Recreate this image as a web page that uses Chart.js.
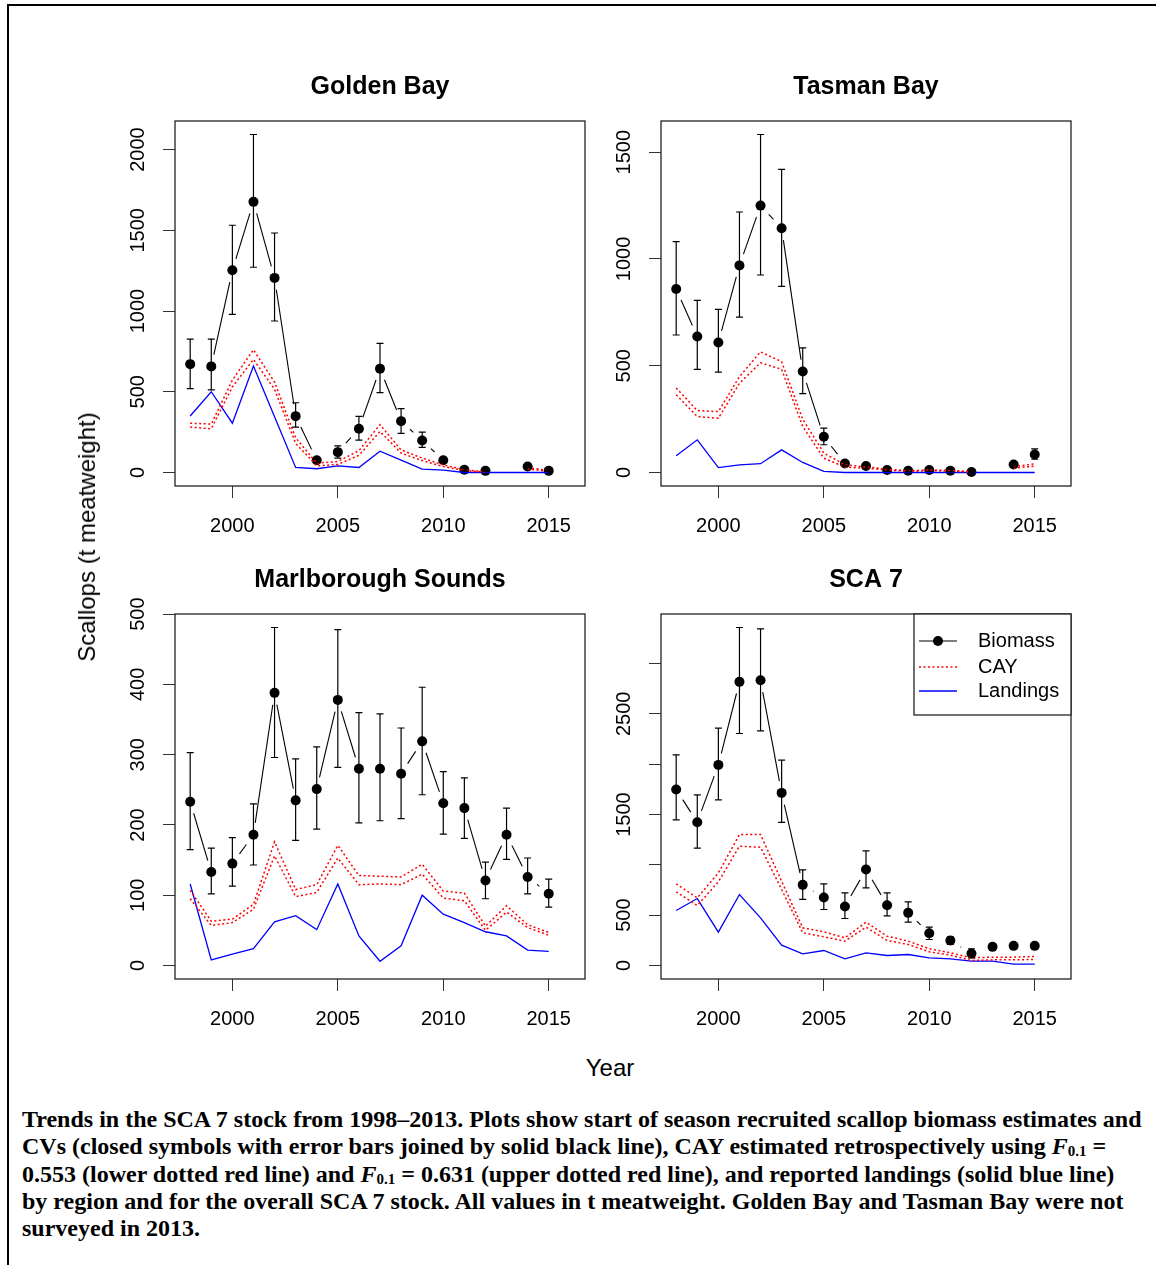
<!DOCTYPE html>
<html>
<head>
<meta charset="utf-8">
<title>SCA 7 scallop trends</title>
<script src="https://cdn.jsdelivr.net/npm/chart.js@4.4.0/dist/chart.umd.min.js"></script>
<style>
  body { margin: 0; background: #fff; }
  #page { position: relative; width: 1156px; height: 1265px; overflow: hidden; background: #fff; }
  .frame { position: absolute; left: 7px; top: 4px; width: 1300px; height: 1400px;
           border-top: 2px solid #000; border-left: 2px solid #000; }
  .panel { position: absolute; width: 500px; height: 500px; }
  .ylab, .xlab { position: absolute; font-family: "Liberation Sans", Arial, sans-serif; font-size: 24px;
                 color: #000; white-space: nowrap; }
  .ylab { left: 87px; top: 537px; transform: translate(-50%, -50%) rotate(-90deg); }
  .xlab { left: 610px; top: 1068px; transform: translate(-50%, -50%); }
  .caption { position: absolute; left: 22px; top: 1106px; font-family: "Liberation Serif", "Times New Roman", serif;
             font-weight: bold; font-size: 24px; line-height: 27.3px; color: #000; white-space: nowrap; }
  .caption sub { font-size: 15px; vertical-align: -2px; line-height: 0; }
</style>
</head>
<body>
<div id="page">
  <div class="frame"></div>
  <canvas id="golden" class="panel" width="500" height="500" style="left:100px;top:60px"></canvas>
  <canvas id="tasman" class="panel" width="500" height="500" style="left:586px;top:60px"></canvas>
  <canvas id="marl" class="panel" width="500" height="500" style="left:100px;top:553px"></canvas>
  <canvas id="sca7" class="panel" width="500" height="500" style="left:586px;top:553px"></canvas>
  <div class="ylab">Scallops (t meatweight)</div>
  <div class="xlab">Year</div>
  <div class="caption">
    Trends in the SCA 7 stock from 1998–2013. Plots show start of season recruited scallop biomass estimates and<br>
    CVs (closed symbols with error bars joined by solid black line), CAY estimated retrospectively using <i>F</i><sub>0.1</sub> =<br>
    0.553 (lower dotted red line) and <i>F</i><sub>0.1</sub> = 0.631 (upper dotted red line), and reported landings (solid blue line)<br>
    by region and for the overall SCA 7 stock. All values in t meatweight. Golden Bay and Tasman Bay were not<br>
    surveyed in 2013.
  </div>
</div>

<script>
// ---- data (t meatweight) ----
const years = [1998, 1999, 2000, 2001, 2002, 2003, 2004, 2005, 2006, 2007, 2008, 2009, 2010, 2011, 2012, 2013, 2014, 2015];
const xTicks = [2000, 2005, 2010, 2015];

// Golden Bay
const gbBiomass = [671, 657, 1252, 1676, 1205, 349, 76, 126, 271, 643, 318, 198, 76, 17, 10, null, 37, 10];
const gbLow     = [519, 512, 979, 1271, 938, 281, 62, 89, 200, 494, 242, 155, 62, 10, 5, null, 30, 5];
const gbHigh    = [826, 826, 1531, 2093, 1483, 432, 92, 165, 347, 800, 395, 250, 91, 25, 15, null, 45, 15];
const gbCayUp   = [305, 300, 572, 760, 560, 215, 58, 68, 135, 296, 140, 89, 47, 17, 4, null, 31, 12];
const gbCayLow  = [281, 271, 530, 700, 515, 181, 41, 50, 106, 254, 120, 74, 37, 12, 2, null, 21, 6];
const gbLand    = [350, 500, 305, 659, 345, 31, 23, 41, 31, 132, 76, 21, 14, 0, 0, 0, 0, 0];
const gbYTicks  = [0, 500, 1000, 1500, 2000];
const gbYLabels = ['0', '500', '1000', '1500', '2000'];

// Tasman Bay
const tbBiomass = [859, 637, 609, 970, 1250, 1144, 473, 167, 42, 30, 12, 8, 12, 8, 2, null, 37, 84];
const tbLow     = [644, 483, 470, 728, 925, 872, 369, 130, 30, 20, 5, 3, 5, 3, 0, null, 25, 62];
const tbHigh    = [1081, 806, 764, 1220, 1583, 1420, 584, 208, 55, 40, 20, 14, 20, 14, 5, null, 50, 111];
const tbCayUp   = [396, 290, 285, 449, 565, 519, 250, 91, 36, 26, 16, 8, 12, 10, 4, null, 28, 40];
const tbCayLow  = [364, 262, 254, 418, 514, 483, 215, 67, 25, 20, 12, 5, 8, 7, 2, null, 20, 30];
const tbLand    = [78, 153, 23, 36, 41, 106, 47, 5, 0, 0, 0, 0, 0, 0, 0, 0, 0, 0];
const tbYTicks  = [0, 500, 1000, 1500];
const tbYLabels = ['0', '500', '1000', '1500'];

// Marlborough Sounds
const msBiomass = [233, 133, 145, 186, 388, 235, 251, 378, 280, 280, 273, 319, 231, 224, 121, 186, 126, 102];
const msLow     = [165, 102, 113, 143, 296, 178, 194, 282, 203, 206, 209, 243, 187, 181, 95, 151, 102, 83];
const msHigh    = [303, 167, 182, 230, 481, 294, 311, 478, 360, 358, 338, 396, 276, 267, 147, 224, 153, 123];
const msCayUp   = [107, 63, 66, 87, 176, 108, 115, 171, 128, 127, 126, 144, 106, 103, 56, 85, 58, 47];
const msCayLow  = [95, 57, 61, 80, 156, 98, 104, 153, 115, 116, 115, 130, 96, 92, 50, 76, 54, 43];
const msLand    = [116, 8, 16, 24, 62, 71, 51, 116, 42, 6, 28, 100, 73, 61, 48, 42, 22, 20];
const msYTicks  = [0, 100, 200, 300, 400, 500];
const msYLabels = ['0', '100', '200', '300', '400', '500'];

// SCA 7 overall
const s7Biomass = [1748, 1424, 1993, 2818, 2834, 1715, 801, 675, 586, 954, 599, 523, 321, 248, 119, 185, 195, 195];
const s7Low     = [1447, 1166, 1646, 2305, 2331, 1421, 656, 556, 467, 772, 493, 430, 258, 209, 76, 165, 175, 175];
const s7High    = [2093, 1695, 2358, 3358, 3344, 2040, 950, 811, 722, 1139, 722, 632, 381, 285, 166, 205, 215, 215];
const s7CayUp   = [811, 672, 920, 1301, 1301, 838, 374, 334, 275, 430, 291, 242, 166, 126, 76, 83, 83, 89];
const s7CayLow  = [732, 596, 831, 1185, 1175, 755, 325, 285, 242, 381, 248, 209, 136, 103, 50, 56, 56, 60];
const s7Land    = [546, 665, 331, 705, 473, 202, 116, 149, 66, 126, 99, 109, 76, 66, 43, 43, 13, 13];
const s7YTicks  = [0, 500, 1000, 1500, 2000, 2500, 3000];
const s7YLabels = ['0', '500', '', '1500', '', '2500', ''];

const legendLabels = ['Biomass', 'CAY', 'Landings'];

// ---- drawing ----
const SANS = '"Liberation Sans", Arial, sans-serif';
const TICK_LEN = 12;

const pts = arr => years.map((yr, i) => ({ x: yr, y: arr[i] }));

// width of widest tick label, used to centre the rotated y labels like R does
const measureCtx = document.createElement('canvas').getContext('2d');
measureCtx.font = '20px ' + SANS;
function widest(labels) {
    return Math.max(...labels.map(l => measureCtx.measureText(l).width));
}

// box, title, error bars, type="b" biomass line and (optionally) legend
function decor(p) {
    return {
        id: 'decor_' + p.id,
        afterDatasetsDraw(chart) {
            const { ctx, scales: { x, y } } = chart;
            ctx.save();
            ctx.strokeStyle = '#000';
            ctx.lineWidth = 1.2;
            years.forEach((yr, i) => {
                if (p.low[i] == null) return;
                const px = x.getPixelForValue(yr);
                const y1 = y.getPixelForValue(p.low[i]);
                const y2 = y.getPixelForValue(p.high[i]);
                ctx.beginPath();
                ctx.moveTo(px, y1); ctx.lineTo(px, y2);
                ctx.moveTo(px - 3.5, y1); ctx.lineTo(px + 3.5, y1);
                ctx.moveTo(px - 3.5, y2); ctx.lineTo(px + 3.5, y2);
                ctx.stroke();
            });
            // segments stop short of each point
            const gap = 12;
            ctx.lineWidth = 1.1;
            for (let i = 0; i < years.length - 1; i++) {
                if (p.biomass[i] == null || p.biomass[i + 1] == null) continue;
                const x1 = x.getPixelForValue(years[i]), y1 = y.getPixelForValue(p.biomass[i]);
                const x2 = x.getPixelForValue(years[i + 1]), y2 = y.getPixelForValue(p.biomass[i + 1]);
                const d = Math.hypot(x2 - x1, y2 - y1);
                if (d <= 2 * gap) continue;
                const ux = (x2 - x1) / d, uy = (y2 - y1) / d;
                ctx.beginPath();
                ctx.moveTo(x1 + ux * gap, y1 + uy * gap);
                ctx.lineTo(x2 - ux * gap, y2 - uy * gap);
                ctx.stroke();
            }
            ctx.restore();
        },
        afterDraw(chart) {
            const { ctx, chartArea: a } = chart;
            ctx.save();
            ctx.strokeStyle = '#222';
            ctx.lineWidth = 1.3;
            ctx.strokeRect(a.left, a.top, a.right - a.left, a.bottom - a.top);

            ctx.fillStyle = '#000';
            ctx.font = 'bold 25px ' + SANS;
            ctx.textAlign = 'center';
            ctx.textBaseline = 'middle';
            ctx.fillText(p.title, (a.left + a.right) / 2, a.top - 34);

            if (p.legend) {
                const bw = 157, bh = 101, bx = a.right - bw, by = a.top;
                ctx.fillStyle = '#fff';
                ctx.fillRect(bx, by, bw, bh);
                ctx.strokeRect(bx, by, bw, bh);
                const rows = [27, 53, 77];
                ctx.font = '20px ' + SANS;
                ctx.textAlign = 'left';
                rows.forEach((ry, k) => {
                    const yy = by + ry;
                    ctx.beginPath();
                    if (k === 0) { ctx.strokeStyle = '#000'; ctx.lineWidth = 1.1; ctx.setLineDash([]); }
                    if (k === 1) { ctx.strokeStyle = '#ff0000'; ctx.lineWidth = 1.5; ctx.setLineDash([2, 2.5]); }
                    if (k === 2) { ctx.strokeStyle = '#0000ff'; ctx.lineWidth = 1.3; ctx.setLineDash([]); }
                    ctx.moveTo(bx + 5, yy); ctx.lineTo(bx + 43, yy);
                    ctx.stroke();
                    ctx.setLineDash([]);
                    if (k === 0) {
                        ctx.fillStyle = '#000';
                        ctx.beginPath(); ctx.arc(bx + 24, yy, 5, 0, Math.PI * 2); ctx.fill();
                    }
                    ctx.fillStyle = '#000';
                    ctx.fillText(legendLabels[k], bx + 64, yy);
                });
            }
            ctx.restore();
        }
    };
}

function makeChart(p) {
    const top = Math.max(...p.high.filter(v => v != null));
    const ext = 0.04 * top;
    const tickFont = { family: SANS, size: 20 };
    const gridOpts = { drawOnChartArea: false, drawTicks: true, tickLength: TICK_LEN, tickColor: '#333', tickWidth: 1 };
    const yPad = 37 - TICK_LEN - widest(p.yLabels) / 2;

    return new Chart(document.getElementById(p.id), {
        type: 'line',
        data: {
            datasets: [
                { data: pts(p.cayUp), borderColor: '#ff0000', borderWidth: 1.5, borderDash: [2, 2.5], pointRadius: 0, spanGaps: false },
                { data: pts(p.cayLow), borderColor: '#ff0000', borderWidth: 1.5, borderDash: [2, 2.5], pointRadius: 0, spanGaps: false },
                { data: pts(p.land), borderColor: '#0000ff', borderWidth: 1.3, pointRadius: 0 },
                { data: pts(p.biomass), showLine: false, pointRadius: 5, pointBackgroundColor: '#000', pointBorderWidth: 0 }
            ]
        },
        options: {
            responsive: false,
            animation: false,
            layout: { padding: { left: 0, top: 61, right: 15, bottom: 0 } },
            plugins: { legend: { display: false }, tooltip: { enabled: false }, title: { display: false } },
            scales: {
                x: {
                    type: 'linear',
                    min: 1998 - 0.72,
                    max: 2016 + 0.72,
                    afterBuildTicks: s => { s.ticks = xTicks.map(v => ({ value: v })); },
                    afterFit: s => { s.height = 74; },
                    grid: gridOpts,
                    border: { display: false },
                    ticks: { font: tickFont, color: '#000', padding: 16, maxRotation: 0, autoSkip: false, callback: v => String(v) }
                },
                y: {
                    type: 'linear',
                    min: -ext,
                    max: top + ext,
                    afterBuildTicks: s => { s.ticks = p.yTicks.map(v => ({ value: v })); },
                    afterFit: s => { s.width = 75; },
                    grid: gridOpts,
                    border: { display: false },
                    ticks: { font: tickFont, color: '#000', minRotation: 90, maxRotation: 90, crossAlign: 'center',
                             padding: yPad, autoSkip: false, callback: (v, i) => p.yLabels[i] }
                }
            }
        },
        plugins: [decor(p)]
    });
}

makeChart({ id: 'golden', title: 'Golden Bay', biomass: gbBiomass, low: gbLow, high: gbHigh,
            cayUp: gbCayUp, cayLow: gbCayLow, land: gbLand, yTicks: gbYTicks, yLabels: gbYLabels });
makeChart({ id: 'tasman', title: 'Tasman Bay', biomass: tbBiomass, low: tbLow, high: tbHigh,
            cayUp: tbCayUp, cayLow: tbCayLow, land: tbLand, yTicks: tbYTicks, yLabels: tbYLabels });
makeChart({ id: 'marl', title: 'Marlborough Sounds', biomass: msBiomass, low: msLow, high: msHigh,
            cayUp: msCayUp, cayLow: msCayLow, land: msLand, yTicks: msYTicks, yLabels: msYLabels });
makeChart({ id: 'sca7', title: 'SCA 7', biomass: s7Biomass, low: s7Low, high: s7High,
            cayUp: s7CayUp, cayLow: s7CayLow, land: s7Land, yTicks: s7YTicks, yLabels: s7YLabels, legend: true });
</script>
</body>
</html>
